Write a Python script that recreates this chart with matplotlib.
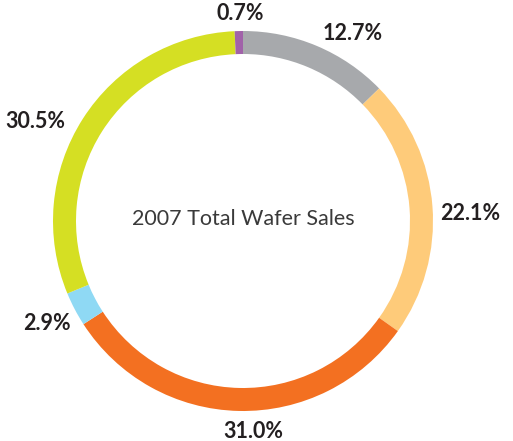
import matplotlib
matplotlib.use("Agg")
from matplotlib import pyplot as plt

# data, clockwise from 12 o'clock
segments = ["Gray", "Peach", "Orange", "Blue", "Yellow", "Purple"]
shares = [12.7, 22.1, 31.0, 2.9, 30.5, 0.7]
share_labels = ["12.7%", "22.1%", "31.0%", "2.9%", "30.5%", "0.7%"]
colors = ["#a7a9ac", "#fecb7a", "#f37021", "#8fd9f4", "#d5df23", "#a162a9"]
title = "2007 Total Wafer Sales"

# layout in pixels (y from bottom)
W, H = 513, 441
center = (243, 220)
radius = 190
ring = 23
label_pos = [(353, 407), (470, 228), (253, 9), (47, 118), (35, 319), (240, 427)]

fig = plt.figure(figsize=(W / 100, H / 100), dpi=100)
ax = fig.add_axes([0, 0, 1, 1])

ax.pie(shares, colors=colors, startangle=90, counterclock=False,
       center=center, radius=radius,
       wedgeprops=dict(width=ring, linewidth=0))

for txt, (x, y) in zip(share_labels, label_pos):
    ax.text(x, y, txt, ha="center", va="center", fontsize=15.5,
            fontweight="bold", family=["Lato", "DejaVu Sans"], color="#231f20")

ax.text(center[0], center[1] + 2, title, ha="center", va="center", fontsize=15.5,
        fontweight="normal", family=["Lato", "DejaVu Sans"], color="#3a3a3a")

ax.set_xlim(0, W)
ax.set_ylim(0, H)
ax.set_aspect("equal")
ax.axis("off")

plt.savefig("out.png", dpi=100)
